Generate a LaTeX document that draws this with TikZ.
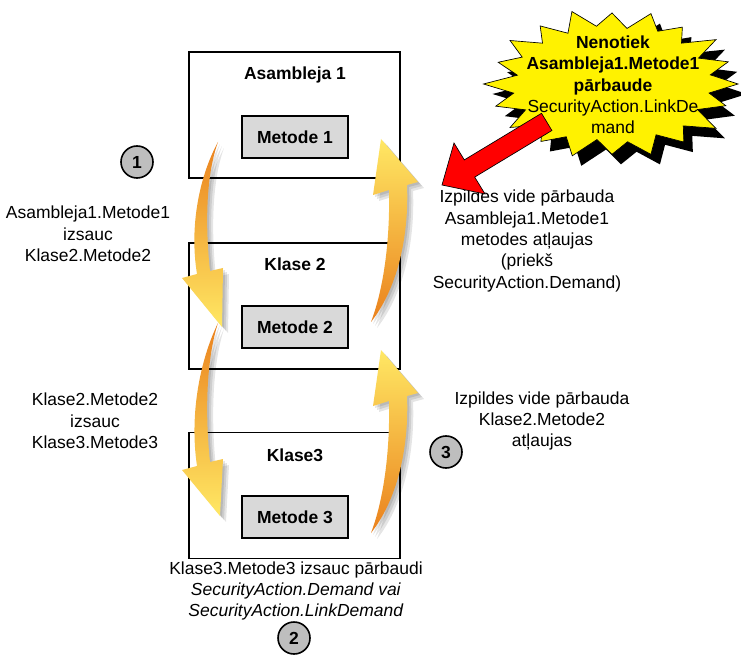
\documentclass[tikz,border=0pt]{standalone}
\usepackage{fontspec}
\setmainfont{Liberation Sans}
\definecolor{arrOrange}{RGB}{234,128,28}
\definecolor{arrYellow}{RGB}{255,232,100}
\definecolor{methodGray}{RGB}{217,217,217}
\definecolor{badgeGray}{RGB}{190,190,190}

% tapered call / check arrows (pixel coordinates, y grows downwards)
\newcommand{\callArrowA}{(218,142) .. controls (200,175) and (189,225) .. (197,274) -- (182,278) -- (222,327) -- (223,268) -- (210,271) .. controls (205,225) and (206,175) .. (218,142) -- cycle}
\newcommand{\callArrowB}{(218,323) .. controls (201,358) and (189,412) .. (197,466) -- (182,470) -- (220,516) -- (223,459) -- (210,462) .. controls (205,415) and (206,360) .. (218,323) -- cycle}
\newcommand{\checkArrow}{(381,139) -- (418,182) -- (407,185) .. controls (409,230) and (400,285) .. (371,322) .. controls (385,285) and (390,235) .. (389,190) -- (373,195) -- cycle}
\newcommand{\burstPath}{(126,0) \foreach \k/\f in {1/0.78,2/0.95,3/0.76,4/1.02,5/0.80,6/0.97,7/0.77,8/1.00,9/0.79,10/0.95,11/0.76,12/1.02,13/0.80,14/0.96,15/0.78,16/1.00,17/0.77,18/0.97,19/0.79,20/1.02,21/0.76,22/0.95,23/0.80,24/1.00,25/0.78,26/0.97,27/0.77,28/1.03,29/0.79,30/0.96,31/0.76,32/1.00,33/0.80,34/0.95,35/0.78,36/1.02,37/0.77,38/0.97,39/0.79} { -- ({126*\f*cos(9*\k)},{74*\f*sin(9*\k)}) } -- cycle}

\begin{document}
\begin{tikzpicture}[x=0.75pt,y=-0.75pt,
  txt/.style={font=\fontsize{13.1}{16}\selectfont, align=center, inner sep=0pt},
  ttl/.style={txt, font=\fontsize{13.1}{16}\selectfont\bfseries},
  outerbox/.style={draw=black, line width=1.2pt, fill=white, minimum width=158.25pt, minimum height=94.5pt, inner sep=0pt},
  methodbox/.style={draw=black, line width=1.2pt, fill=methodGray, minimum width=79.5pt, minimum height=31.5pt, inner sep=0pt, font=\fontsize{13.1}{16}\selectfont\bfseries},
  badge/.style={circle, draw=black, line width=1.2pt, fill=badgeGray, minimum size=24pt, inner sep=0pt, font=\fontsize{13.1}{16}\selectfont\bfseries},
  downshade/.style={top color=arrOrange, bottom color=arrYellow},
  upshade/.style={top color=arrYellow, bottom color=arrOrange},
  softshadow/.style={fill=black, opacity=0.10}
]
\useasboundingbox (0,0) rectangle (741,655);

% containers
\node[outerbox] (asm) at (294.5,115) {};
\node[outerbox] (kl2) at (294.5,306) {};
\node[outerbox] (kl3) at (294.5,495.5) {};
\node[ttl] (asmT) at (295,75) {Asambleja 1};
\node[ttl] (kl2T) at (295,264) {Klase 2};
\node[ttl] (kl3T) at (295,455) {Klase3};
\node[methodbox] (m1) at (295,137) {Metode 1};
\node[methodbox] (m2) at (295,327) {Metode 2};
\node[methodbox] (m3) at (295,517) {Metode 3};

% step badges
\node[badge] (b1) at (137,162) {1};
\node[badge] (b2) at (294,638) {2};
\node[badge] (b3) at (446,452) {3};

% descriptions
\node[txt] (callA) at (88,234) {Asambleja1.Metode1\\izsauc\\Klase2.Metode2};
\node[txt] (callB) at (95,421) {Klase2.Metode2\\izsauc\\Klase3.Metode3};
\node[txt] (checkA) at (527,241) {Izpildes vide pārbauda\\Asambleja1.Metode1\\metodes atļaujas\\(priekš\\SecurityAction.Demand)};
\node[txt] (checkB) at (542,421) {Izpildes vide pārbauda\\Klase2.Metode2\\atļaujas};
\node[txt] (demand) at (296,591) {Klase3.Metode3 izsauc pārbaudi\\\textit{SecurityAction.Demand vai}\\\textit{SecurityAction.LinkDemand}};

% curved arrows with soft shadows
\foreach \d in {2,4,6} {
  \fill[softshadow, shift={(\d,\d)}] \callArrowA;
  \fill[softshadow, shift={(\d,\d)}] \callArrowB;
  \fill[softshadow, shift={(\d,\d)}] \checkArrow;
  \fill[softshadow, shift={(\d,211+\d)}] \checkArrow;
}
\shade[downshade] \callArrowA;
\shade[downshade] \callArrowB;
\shade[upshade] \checkArrow;
\shade[upshade, shift={(0,211)}] \checkArrow;

% warning burst
\fill[black, shift={(621,94)}] \burstPath;
\filldraw[fill=yellow, draw=black, line width=0.5pt, shift={(612,84)}] \burstPath;
\node[txt] (burst) at (613,85) {\textbf{Nenotiek}\\\textbf{Asambleja1.Metode1}\\\textbf{pārbaude}\\SecurityAction.LinkDe\\mand};

% pointer from the burst
\filldraw[fill=red, draw=black, line width=0.5pt, line join=miter]
  (551.9,130.5) -- (474.7,177.1) -- (485,194) -- (442,185) -- (454,143) -- (464.3,159.9) -- (541.5,113.3) -- cycle;
\end{tikzpicture}
\end{document}
